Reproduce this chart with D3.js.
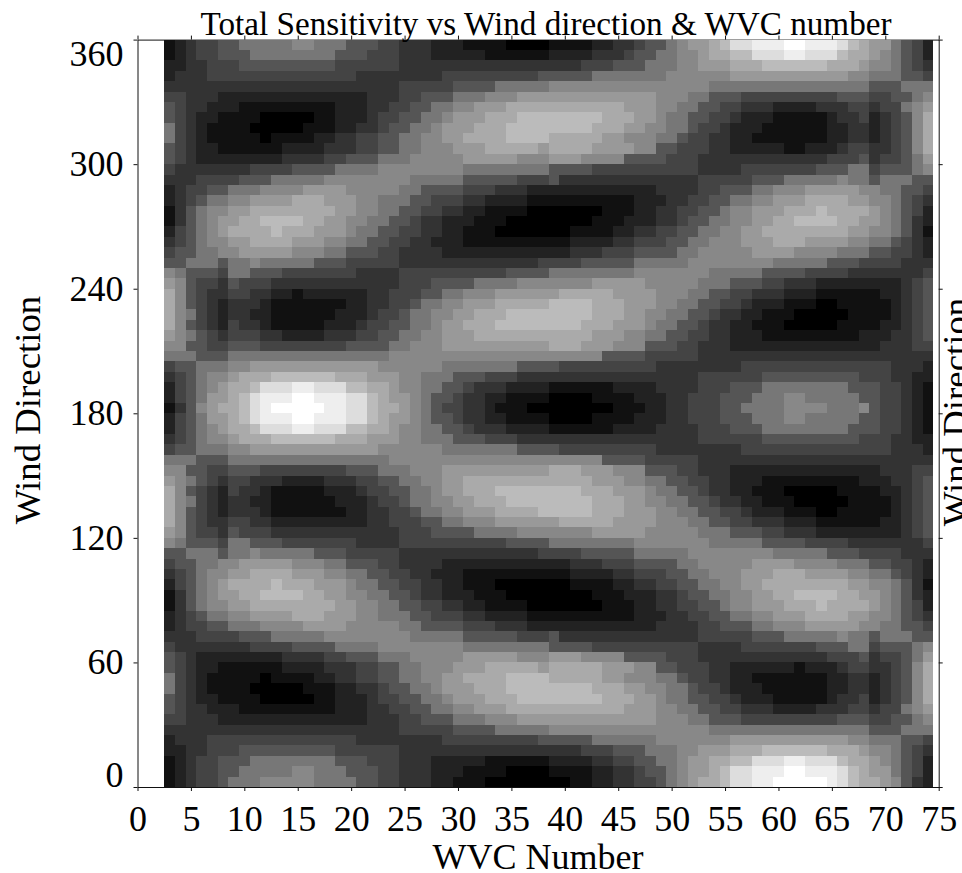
<!DOCTYPE html>
<html>
<head>
<meta charset="utf-8">
<script src="https://cdn.jsdelivr.net/npm/d3@7.9.0/dist/d3.min.js"></script>
<style>
  html, body { margin: 0; background: #fff; overflow: hidden; }
  svg { display: block; }
  text { font-family: "Liberation Serif", serif; fill: #000; }
</style>
</head>
<body>
<div id="chart"></div>
<script>
// categories
const wvcNumbers = d3.range(3, 75);
const windDirections = d3.range(355, -5, -5); // lower edge of each 5 degree bin, top row first

// tick labels
const xTicks = [0, 5, 10, 15, 20, 25, 30, 35, 40, 45, 50, 55, 60, 65, 70, 75];
const yTicks = [0, 60, 120, 180, 240, 300, 360];

// sensitivity read off the picture as grey level 0-f, one string per wind direction,
// spaces only split the runs to keep them readable
const sensitivity = [
  "1 2 3 44 55 77777 88 777 555 44 333 222 1111 0000 1111 22 33 4 55 7 8 99 a b dd eee ff eee d b a 99 7 5 4 2",
  "1 2 3 44 555 77777777 555 444 333 22222 111111 2222 333 4 55 77 88 9 aa bb ddd ee ddd b aa 9 8 7 5 4 2",
  "22 33 444 555555555 444444 33333333333333 333 444 555 777 88 999 aaa bbbbbb aaa 9 88 7 5 4 3",
  "2 333 44444444444444 33333333 444444444 5 5555 7777777 888888 99999999999 88 777 55 4",
  "3333333333333333333333 44444 5555 77777 888888888888888 777777777777777 555 777",
  "44 333 22222222222222 333 44 555 777 888 999 9999999999 888 77 555 444444444 555 44 55 7 8",
  "5 4 33 222 111111111 222 33 44 55 77 88 999 aaaa aaaaaaa 999 88 77 55 44 333 2222 333 44 3 44 7 8 9",
  "5 4 3 22 1111 00000 11 222 3 44 55 77 8 999 aaa bbb bbbbb aaa 99 8 77 55 44 3 222 11111 2 33 4 2 3 4 5 8 a",
  "7 4 3 2 1111 00000 111 22 33 4 55 77 8 999 aaa bbbb bbbb aaa 99 88 77 5 44 3 222 111111 22 33 2 3 4 5 8 a",
  "7 4 3 2 11111 0 1111 22 33 44 55 77 88 99 aaaa bbbb aaaaa 99 888 77 5 44 33 22 1111111 22 33 2 3 4 5 8 a",
  "5 4 3 22 111111 2222 333 44 55 77 888 999 aaaaa 9 aaaa 9999 88 55 444 33 22222 11 222 3 44 33 4 5 8 a",
  "5 4 3 22222222 3333 44 555 777 88888 99999 888 999 8888 5555 444 333333333333 444 5 3 44 5 7 9",
  "4 3333333 4444 5555 7777 88888888 77777777 5555 4444444444 3333 4444444 555 77 4 555 7 8",
  "333 4444 555 77777 88888888 77777 55555 444 5 3333333333333 44444 555 77777 8 77 5 777 55",
  "2 3 44 55 777 8888 9999 88888 77 5555 444 333 22 2222222222 3333 44 555 77 888 99999 88 77 55 4",
  "2 3 4 5 77 88 9999 aaa 999 88 777 55 444 33 2222 11 11111111 222 33 44 55 77 88 999 aaaa 99 88 7 5 4 3",
  "1 3 5 7 88 99 aaaaaaaa 99 88 77 55 44 33 22 1111 00 00000 111 22 33 44 55 7 88 999 aaa b aaaa 9 8 7 5 4 2",
  "1 3 5 7 8 99 aa bbbb aa 99 88 77 55 4 33 222 111 0000 0000 111 222 33 4 55 77 88 99 aa bbbb aa 99 8 7 5 3 2",
  "2 4 5 7 8 9 aaaa b aaa 999 8 77 55 44 33 22 111 00000 00 1111 22 33 44 55 77 88 99 aaaaaaaa 99 88 7 5 3 1",
  "3 4 5 7 88 99 aaaa 999 88 77 55 44 33 222 11111111 11 2222 33 444 55 77 888 999 aaa 9999 88 77 5 4 3 2",
  "4 55 77 88 99999 888 77 555 44 3333 2222222222 22 333 444 5555 77 88888 9999 8888 777 55 44 3 2",
  "55 777 5 77 8 77777 555 44444 3333333333333 4 444 55555 77777 88888888 77777 555 4444 333",
  "8 7 555 4 77 555 4444444 3333 4444444444 5555 77777777 8888888 77777 5555 4444 3333333 4",
  "9 8 5 44 3 5 444 333333333333 444 5555 7777 888 8888 99999 88888 777 555 44 333 22222222 3 4 5",
  "a 8 5 4 33 44 33 22 1 222222 33 444 55 77 888 99999 9 aaaaa 9999 888 77 55 44 333 222 111111 22 3 4 5",
  "a 8 5 4 3 2 333 2 1111111 22 33 44 5 77 88 999 aaaaa bbbb aaa 999 88 77 55 44 3 222 111 00 11111 2 3 4 5",
  "a 8 7 4 3 2 33 22 111111 222 3 44 5 77 88 99 aaa bbbb bbbb aaa 99 88 77 55 4 33 22 111 00000 1111 2 3 4 5",
  "a 8 5 4 3 2 4 33 2 11111 222 3 44 55 77 8 99 aaa bbbbb bbb aaa 999 8 77 55 4 33 22 111 00000 1111 22 3 4 5",
  "9 8 7 5 4 3 444 33 2222 333 44 55 77 88 999 aaaaaaa aaaa 999 88 77 55 44 33 222 111111111 222 33 4 5",
  "88 55 44 555 44444444 5555 77 888 9999999999 aaa 999 888 555 44 333 22222222222222 333 44",
  "777 555 777777777777777 888888888888888 88888 5555 44444 3333333333333333333333",
  "4 55 777 88 999999999999 888888 7777777 555 5 444444444 33333333 44444444444444 333 2",
  "3 4 5 7 88 9 aaa bbbbbb aaa 999 88 777 555 444 333 33333333333333 444444 555555555 444 33 22",
  "2 4 5 7 8 9 aa b ddd ee ddd bb aa 9 88 77 55 4 333 2222 111111 2222 3333 444 555 77777777 555 44 3 2 1",
  "2 4 5 7 99 a b d eee ff eee dd b a 99 8 7 55 4 33 22 1111 0000 1111 222 33 444 555 777 88 77777 55 44 3 2 1",
  "1 3 5 8 9 aa b d e fffff ee dd b aa 9 8 7 5 44 33 2 111 00 000000 111 22 33 444 55 7777 8888 777 8 5 44 3 2 1",
  "2 4 5 7 99 a b d eee ff eee dd b a 99 8 7 55 4 33 22 1111 0000 1111 222 33 444 555 777 88 77777 55 44 3 2 1",
  "2 4 5 7 8 9 aa b ddd ee ddd bb aa 9 88 77 55 4 333 2222 111111 2222 3333 444 555 77777777 555 44 3 2 1",
  "3 4 5 7 88 9 aaa bbbbbb aaa 999 88 777 555 444 333 33333333333333 444444 555555555 444 33 22",
  "4 55 777 88 999999999999 888888 7777777 555 5 444444444 33333333 44444444444444 333 2",
  "777 555 777777777777777 888888888888888 88888 5555 44444 3333333333333333333333",
  "88 55 44 555 44444444 555 777 888 9999999999 aaa 999 888 555 44 333 22222222222222 333 44",
  "9 8 7 5 4 3 44 333 2222 333 44 55 77 88 99 aaaaaaaa aaaa 999 88 77 55 44 33 222 111111111 222 33 4 5",
  "a 8 5 4 3 2 4 33 2 11111 222 3 44 55 77 8 99 aaa bbbbb bbb aaa 999 8 77 55 4 33 22 111 00000 1111 22 3 4 5",
  "a 8 7 4 3 2 33 22 111111 222 3 44 5 77 88 99 aaa bbbb bbbb aaa 99 88 77 55 4 33 22 111 00000 1111 2 3 4 5",
  "a 8 5 4 3 2 333 2 1111111 22 33 44 5 77 88 999 aaaa b bbbb aaa 999 88 77 55 44 3 222 111 00 11111 2 3 4 5",
  "a 8 5 4 33 44 33 222222222 33 444 55 77 888 99999 9 aaaaa 9999 888 77 55 44 333 222 111111 22 3 4 5",
  "9 8 5 44 3 5 444 333333333333 444 5555 7777 888 8888 99999 88888 777 555 44 333 22222222 3 4 5",
  "8 7 555 4 77 555 4444444 3333 4444444444 5555 77777777 8888888 77777 5555 4444 3333333 4",
  "55 777 5 77 8 77777 555 44444 3333333333333 4 444 55555 77777 88888888 77777 555 4444 333",
  "4 55 77 88 99999 888 77 555 44 3333 2222222222 22 333 444 5555 77 88888 9999 8888 777 55 44 3 2",
  "3 4 5 7 88 99 aaaa 999 88 77 55 44 33 222 11111111 11 2222 33 444 55 77 888 999 aaa 9999 88 77 5 4 3 2",
  "2 4 5 7 8 9 aaaa b aaa 999 8 77 55 44 33 22 111 00000 00 1111 22 33 44 55 77 88 99 aaaaaaaa 99 88 7 5 3 1",
  "1 3 5 7 8 99 aa bbbb aa 99 88 77 55 4 33 222 111 0000 0000 111 222 33 4 55 77 88 99 aa bbbb aa 99 8 7 5 3 2",
  "1 3 5 7 88 99 aaaaaaaa 99 88 77 55 44 33 22 1111 00 00000 111 22 33 44 55 7 88 999 aaa b aaaa 9 8 7 5 4 2",
  "2 3 4 5 77 88 9999 aaa 999 88 777 55 444 33 2222 11 11111111 222 33 44 55 77 88 999 aaaa 99 88 7 5 4 3",
  "2 3 44 55 777 8888 9999 88888 77 5555 444 333 22 2222222222 3333 44 555 77 888 99999 88 77 55 4",
  "333 4444 555 77777 88888888 77777 55555 444 5 3333333333333 44444 555 77777 8 77 5 777 55",
  "4 3333333 4444 5555 7777 88888888 77777777 5555 4444444444 3333 4444444 555 77 4 555 7 8",
  "5 4 3 22222222 3333 44 555 777 88888 99999 888 999 8888 5555 444 333333333333 444 5 3 44 5 7 9",
  "5 4 3 22 111111 2222 333 44 55 77 888 999 aaaaa 9 aaaaa 999 88 55 444 33 222222 1 222 3 44 33 4 5 8 a",
  "7 4 3 2 11111 0 1111 22 33 44 55 77 88 99 aaaa bbbb aaaaa 99 888 77 5 44 33 22 1111111 22 33 2 3 4 5 8 a",
  "7 4 3 2 1111 00000 111 22 33 4 55 77 8 999 aaa bbbb bbbb aaa 99 88 77 5 44 3 222 111111 22 33 2 3 4 5 8 a",
  "5 4 3 22 1111 00000 11 222 3 44 55 77 8 999 aaa bbb bbbbb aaa 99 8 77 55 44 3 222 11111 2 33 4 2 3 4 5 8 a",
  "5 4 33 222 111111111 222 33 44 55 77 88 999 aaaa aaaaaaa 999 88 77 55 44 333 2222 333 44 3 44 7 8 9",
  "44 333 22222222222222 333 44 555 777 888 999 9999999999 888 77 555 444444444 555 44 55 7 8",
  "3333333333333333333333 44444 5555 77777 888888888888888 777777777777777 555 777",
  "2 333 44444444444444 33333333 444444444 5 5555 777777 8888888 99999999999 88 777 55 4",
  "22 33 444 555555555 444444 33333333333333 333 444 555 777 88 999 aaa bbbbbb aaa 9 88 7 5 4 3",
  "1 2 3 44 555 77777777 555 444 333 22222 111111 2222 33 44 55 77 8 99 aa bb ddd ee ddd b aa 9 8 7 5 4 2",
  "1 2 3 44 55 77777 88 777 555 44 333 222 1111 0000 1111 22 33 4 55 7 8 99 a b dd eee ff eee d b a 99 7 5 4 2",
  "1 2 3 44 5 777 88888 7777 55 44 333 22 111 000000 00 11 22 33 44 5 7 8 9 aa b dd ee fffff e d b aa 9 8 5 3 2"
];

// config
const width = 962,
  height = 873;

const svg = d3
  .select("#chart")
  .append("svg")
  .attr("width", width)
  .attr("height", height);

const x = d3.scaleLinear().domain([0, 75]).range([137.5, 938.7]);
const y = d3.scaleLinear().domain([0, 360]).range([787, 39.6]);
const grey = d3.scaleLinear().domain([0, 15]).range(["#000", "#fff"]);

// axes first, the image sits on top of the top line
svg.append("g")
  .attr("class", "axis")
  .attr("transform", `translate(0,${y(360)})`)
  .call(d3.axisTop(x).tickValues(xTicks).tickSize(4).tickSizeOuter(0).tickFormat(""));
svg.append("g")
  .attr("class", "axis")
  .attr("transform", `translate(${x(75)},0)`)
  .call(d3.axisRight(y).tickValues(yTicks).tickSize(4).tickSizeOuter(0).tickFormat(""));

// heatmap, one rect per cell
const rows = svg
  .append("g")
  .attr("shape-rendering", "crispEdges")
  .selectAll("g")
  .data(sensitivity)
  .join("g");

rows
  .selectAll("rect")
  .data((row, i) =>
    Array.from(row.replace(/\s/g, "")).map((c, j) => ({
      wvc: wvcNumbers[j],
      dir: windDirections[i],
      level: parseInt(c, 16),
    }))
  )
  .join("rect")
  .attr("x", (d) => x(d.wvc - 0.5))
  .attr("y", (d) => y(d.dir + 5))
  .attr("width", (d) => x(d.wvc + 0.5) - x(d.wvc - 0.5))
  .attr("height", (d) => y(d.dir) - y(d.dir + 5))
  .attr("fill", (d) => grey(d.level));

const xAxis = svg
  .append("g")
  .attr("class", "axis")
  .attr("transform", `translate(0,${y(0)})`)
  .call(d3.axisBottom(x).tickValues(xTicks).tickSize(4).tickSizeOuter(0).tickPadding(14.5));

const yAxis = svg
  .append("g")
  .attr("class", "axis")
  .attr("transform", `translate(${x(0)},0)`)
  .call(d3.axisLeft(y).tickValues(yTicks).tickSize(4).tickSizeOuter(0).tickPadding(10));

svg.selectAll(".axis text").style("font-size", "36px").style("font-family", '"Liberation Serif", serif');
svg.selectAll(".axis .domain, .axis line").attr("stroke", "#111").attr("stroke-width", 1);

// first and last y labels are pulled inside the frame
yAxis.selectAll("text").attr("dy", (d) => (d === 0 ? "-0.02em" : d === 360 ? "0.72em" : "0.32em"));

// titles
svg.append("text")
  .attr("x", 546)
  .attr("y", 35)
  .attr("text-anchor", "middle")
  .style("font-size", "33.2px")
  .text("Total Sensitivity vs Wind direction & WVC number");

svg.append("text")
  .attr("x", 538)
  .attr("y", 869)
  .attr("text-anchor", "middle")
  .style("font-size", "36px")
  .text("WVC Number");

svg.append("text")
  .attr("transform", "translate(40,410) rotate(-90)")
  .attr("text-anchor", "middle")
  .style("font-size", "36.8px")
  .text("Wind Direction");

svg.append("text")
  .attr("transform", "translate(968,412) rotate(-90)")
  .attr("text-anchor", "middle")
  .style("font-size", "36.8px")
  .text("Wind Direction");
</script>
</body>
</html>
